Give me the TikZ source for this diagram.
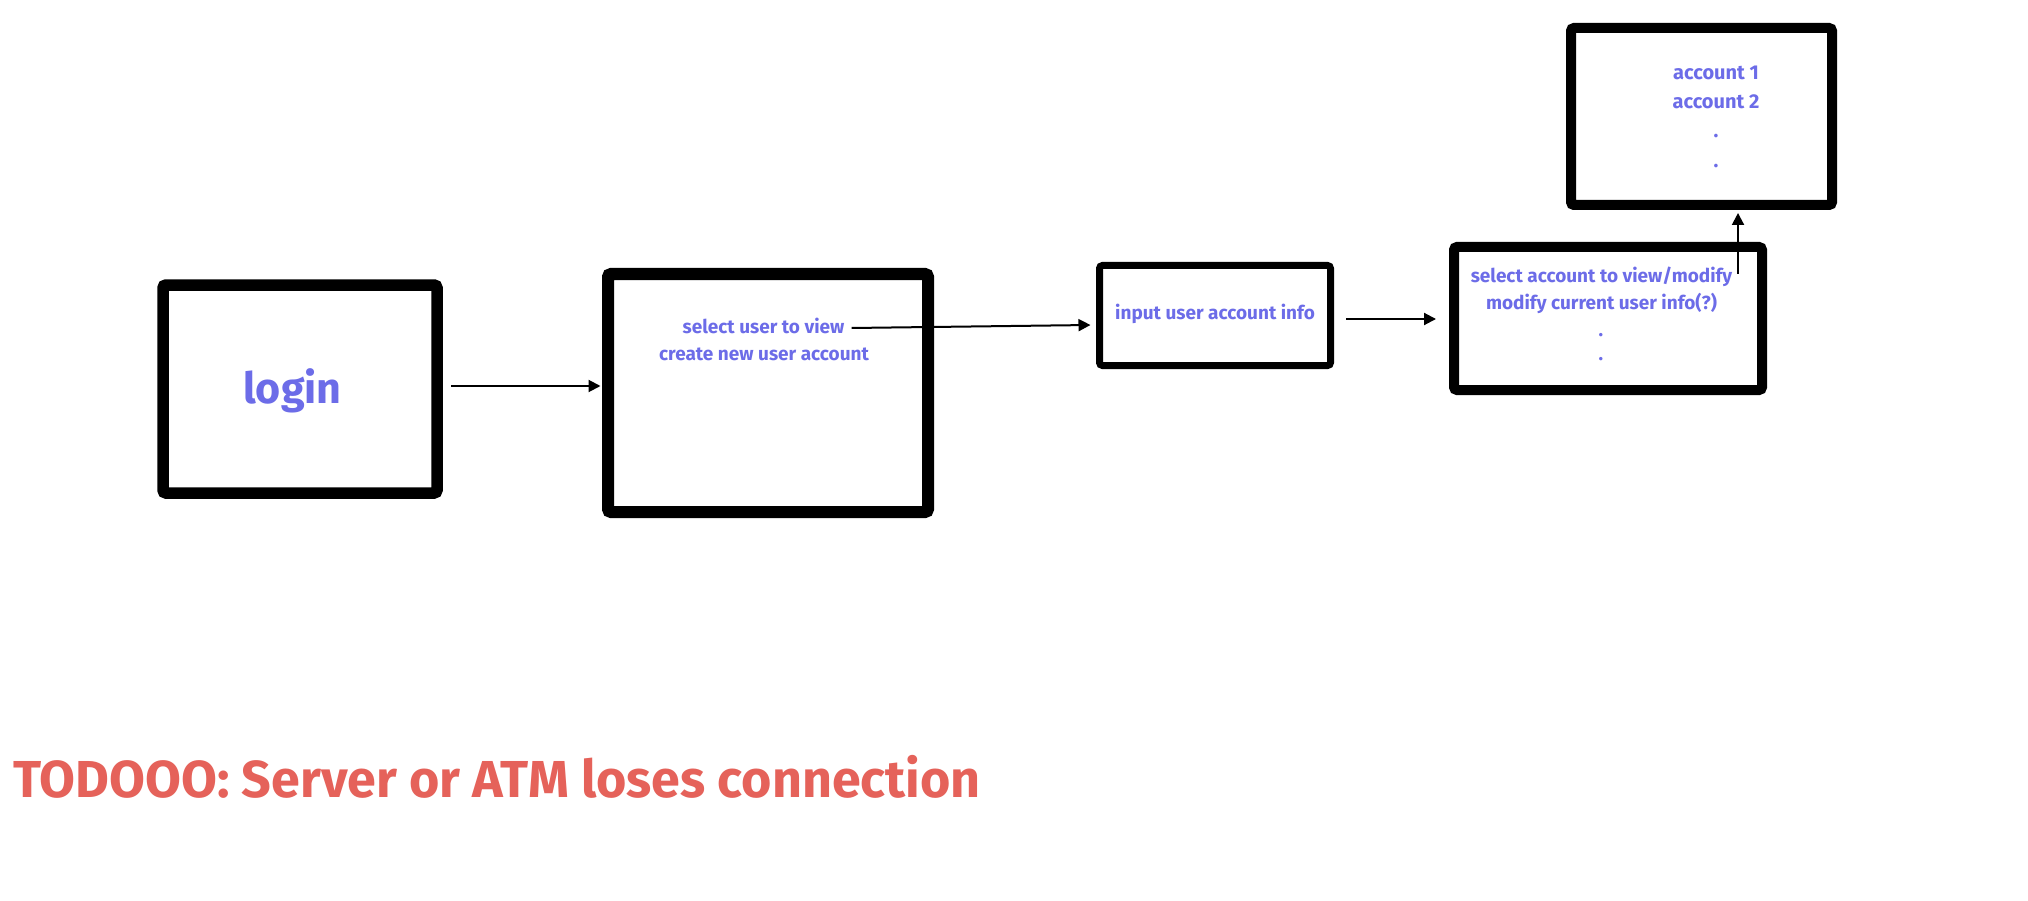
\documentclass[tikz,border=0pt]{standalone}
\usepackage{fontspec}
\newfontfamily\fira{Fira Sans}
\usetikzlibrary{arrows.meta,calc}
\definecolor{myblue}{RGB}{108,108,232}
\definecolor{myred}{RGB}{229,98,90}
\begin{document}
\begin{tikzpicture}[x=1pt,y=-1pt,
  box/.style={draw=black, rectangle, rounded corners=3pt, inner sep=0pt, outer sep=0pt, fill=white},
  btext/.style={text=myblue, font=\fira\bfseries\fontsize{19}{19}\selectfont, inner sep=0pt, anchor=base},
  atext/.style={text=myblue, font=\fira\bfseries\fontsize{20}{20}\selectfont, inner sep=0pt, anchor=base},
  arr/.style={-{Triangle[length=12pt,width=12pt]}, line width=2pt}]
\useasboundingbox[fill=white] (0,0) rectangle (2028,901);
% boxes
\node[box, line width=11.5pt, minimum width=274pt, minimum height=208pt] (b1) at (300,389) {};
\node[box, line width=12pt, minimum width=320pt, minimum height=238pt] (b2) at (768,393) {};
\node[box, line width=7pt, minimum width=231pt, minimum height=100pt] (b3) at (1215,315.5) {};
\node[box, line width=10pt, minimum width=308pt, minimum height=143pt] (b4) at (1608,318.5) {};
\node[box, line width=10pt, minimum width=261pt, minimum height=177pt] (b5) at (1701.5,116.5) {};
% texts
\node[text=myblue, font=\fira\bfseries\fontsize{43}{43}\selectfont, inner sep=0pt, anchor=base] (lg) at (292.5,403) {login};
\node[btext] (s2a) at (763.5,333) {select user to view};
\node[btext] (s2b) at (764,360) {create new user account};
\node[btext] (s3) at (1215,319) {input user account info};
\node[btext] (s4a) at (1601.5,282) {select account to view/modify};
\node[btext] (s4b) at (1601.5,309) {modify current user info(?)};
\node[btext] (s4c) at (1601,336) {.};
\node[btext] (s4d) at (1601,360) {.};
\node[atext] (s5a) at (1716,80) {account 1};
\node[atext] (s5b) at (1716,109) {account 2};
\node[atext] (s5c) at (1716,138) {.};
\node[atext] (s5d) at (1716,168) {.};
\node[text=myred, font=\fira\bfseries\fontsize{52}{52}\selectfont, inner sep=0pt, anchor=base west] (todo) at (13,797) {TODOOO: Server or ATM loses connection};
% connectors
\draw[arr] ($(b1.east)+(14,-3)$) -- ($(b2.west)+(-7.5,-7)$);
\coordinate (s2end) at ($(s2a.east)+(7,0)$);
\draw[arr] (s2end |- 0,328) -- ($(b3.west)+(-9,9.5)$);
\draw[arr] ($(b3.east)+(15.5,3.5)$) -- ($(b4.west)+(-18,0.5)$);
\coordinate (up) at (1738,274);
\draw[arr] (up) -- ([yshift=-8pt]up |- b5.south);
\end{tikzpicture}
\end{document}
